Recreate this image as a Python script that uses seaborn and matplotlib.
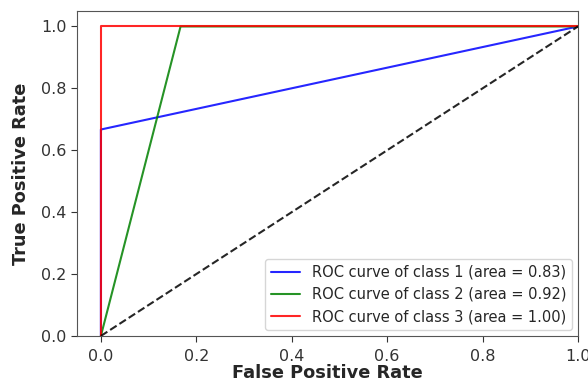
import numpy as np
import pandas as pd
import matplotlib
matplotlib.use("Agg")
import matplotlib.pyplot as plt
import seaborn as sns

# ROC curve points per class
fpr_class1 = [0.0, 0.0, 1.0]
tpr_class1 = [0.0, 0.667, 1.0]
fpr_class2 = [0.0, 0.167, 1.0]
tpr_class2 = [0.0, 1.0, 1.0]
fpr_class3 = [0.0, 0.0, 1.0]
tpr_class3 = [0.0, 1.0, 1.0]
auc_values = [0.83, 0.92, 1.00]
class_names = ["1", "2", "3"]
colors = ["blue", "green", "red"]

sns.set_style("ticks")
plt.rcParams["font.family"] = ["DejaVu Sans"]

fig = plt.figure(figsize=(5.88, 3.92), dpi=100)
ax = fig.add_axes([0.131, 0.143, 0.852, 0.829])

curves = [(fpr_class1, tpr_class1), (fpr_class2, tpr_class2), (fpr_class3, tpr_class3)]
for (fpr, tpr), name, auc, col in zip(curves, class_names, auc_values, colors):
    df = pd.DataFrame({"fpr": fpr, "tpr": tpr})
    sns.lineplot(data=df, x="fpr", y="tpr", ax=ax, color=col, lw=1.5,
                 sort=False, estimator=None, alpha=0.85,
                 label=f"ROC curve of class {name} (area = {auc:.2f})")

ax.plot([0, 1], [0, 1], "k--", lw=1.5, alpha=0.85)

ax.set_xlim(-0.05, 1.0)
ax.set_ylim(0.0, 1.05)
ax.set_xticks([0.0, 0.2, 0.4, 0.6, 0.8, 1.0])
ax.set_yticks([0.0, 0.2, 0.4, 0.6, 0.8, 1.0])
ax.tick_params(labelsize=11.5, colors="#333333", length=4)
ax.tick_params(axis="x", pad=5.5)
ax.set_xlabel("False Positive Rate", fontsize=12.8, fontweight="bold", labelpad=0)
ax.set_ylabel("True Positive Rate", fontsize=12.8, fontweight="bold", labelpad=8)
for s in ax.spines.values():
    s.set_color("#555555")
    s.set_visible(True)

ax.legend(loc="lower right", fontsize=10.5, borderaxespad=0.4)

fig.savefig("out.png", dpi=100)
